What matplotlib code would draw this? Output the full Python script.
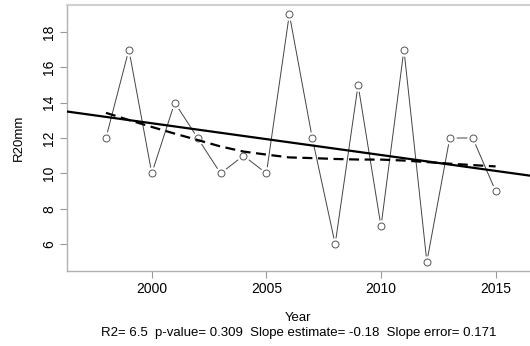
import numpy as np
import matplotlib
matplotlib.use("Agg")
import matplotlib.pyplot as plt

years = [1998, 1999, 2000, 2001, 2002, 2003, 2004, 2005, 2006, 2007,
         2008, 2009, 2010, 2011, 2012, 2013, 2014, 2015]
r20mm = [12, 17, 10, 14, 12, 10, 11, 10, 19, 12,
         6, 15, 7, 17, 5, 12, 12, 9]
x_ticks = [2000, 2005, 2010, 2015]
y_ticks = [6, 8, 10, 12, 14, 16, 18]
stats_text = "R2= 6.5  p-value= 0.309  Slope estimate= -0.18  Slope error= 0.171"


def lowess(x, y, f=2/3, iters=3):
    x = np.asarray(x, float)
    y = np.asarray(y, float)
    n = len(x)
    ns = max(min(int(round(f * n)), n), 2)
    rw = np.ones(n)
    ys = np.zeros(n)
    rng = x[-1] - x[0]
    for it in range(iters + 1):
        nleft, nright = 0, ns - 1
        for i in range(n):
            while nright < n - 1 and x[i] - x[nleft] > x[nright + 1] - x[i]:
                nleft += 1
                nright += 1
            h = max(x[i] - x[nleft], x[nright] - x[i])
            h9, h1 = 0.999 * h, 0.001 * h
            w = np.zeros(n)
            r = np.abs(x - x[i])
            for j in range(n):
                if r[j] <= h9:
                    if r[j] <= h1:
                        w[j] = 1.0
                    else:
                        w[j] = (1 - (r[j] / h) ** 3) ** 3
            w *= rw
            s = w.sum()
            if s <= 0:
                ys[i] = y[i]
                continue
            w /= s
            if h > 0:
                a = np.sum(w * x)
                c = np.sum(w * (x - a) ** 2)
                if np.sqrt(c) > 0.001 * rng:
                    b = (x[i] - a) / c
                    w = w * (b * (x - a) + 1)
            ys[i] = np.sum(w * y)
        if it == iters:
            break
        res = y - ys
        cmad = 6 * np.median(np.abs(res))
        if cmad < 1e-7 * np.mean(np.abs(y)):
            break
        c9, c1 = 0.999 * cmad, 0.001 * cmad
        ar = np.abs(res)
        rw = np.where(ar <= c1, 1.0, np.where(ar <= c9, (1 - (ar / cmad) ** 2) ** 2, 0.0))
    return ys


plt.rcParams['font.family'] = ['Liberation Sans', 'DejaVu Sans']

fig = plt.figure(figsize=(5.30, 3.46), dpi=100)
ax = fig.add_axes([0.1264, 0.2168, 0.8736, 0.7687])

ax.plot(years, r20mm, color='#444444', lw=0.7, zorder=2)
ax.plot(years, r20mm, ls='none', marker='o', ms=9, mfc='white', mec='none', zorder=3)
ax.plot(years, r20mm, ls='none', marker='o', ms=5, mfc='white', mec='#555555', mew=0.7, zorder=4)

slope, intercept = np.polyfit(years, r20mm, 1)
ax.axline((years[0], intercept + slope * years[0]), slope=slope, color='black', lw=1.6, zorder=5)

smooth = lowess(years, r20mm)
ax.plot(years, smooth, color='black', lw=1.6, ls=(0, (4.5, 2.5)), zorder=5)

ax.set_xlim(1996.3, 2016.5)
ax.set_ylim(4.48, 19.52)
ax.set_xticks(x_ticks)
ax.set_yticks(y_ticks)
ax.tick_params(axis='both', colors='#999999', labelcolor='black', labelsize=10, length=5, width=0.8)
ax.tick_params(axis='x', pad=3)
ax.tick_params(axis='y', pad=3)
for lbl in ax.get_yticklabels():
    lbl.set_rotation(90)
    lbl.set_va('center')

for s in ['left', 'bottom']:
    ax.spines[s].set_color('#b0b0b0')
    ax.spines[s].set_linewidth(1.0)
ax.spines['top'].set_color('#d0d0d0')
ax.spines['top'].set_linewidth(1.5)
ax.spines['right'].set_visible(False)

ax.set_ylabel('R20mm', fontsize=9.5, labelpad=12)
fig.text(0.563, 1 - 318 / 346, 'Year', ha='center', va='center', fontsize=9.5)
fig.text(0.563, 1 - 333 / 346, stats_text, ha='center', va='center', fontsize=9.5)

fig.savefig('out.png', dpi=100)
